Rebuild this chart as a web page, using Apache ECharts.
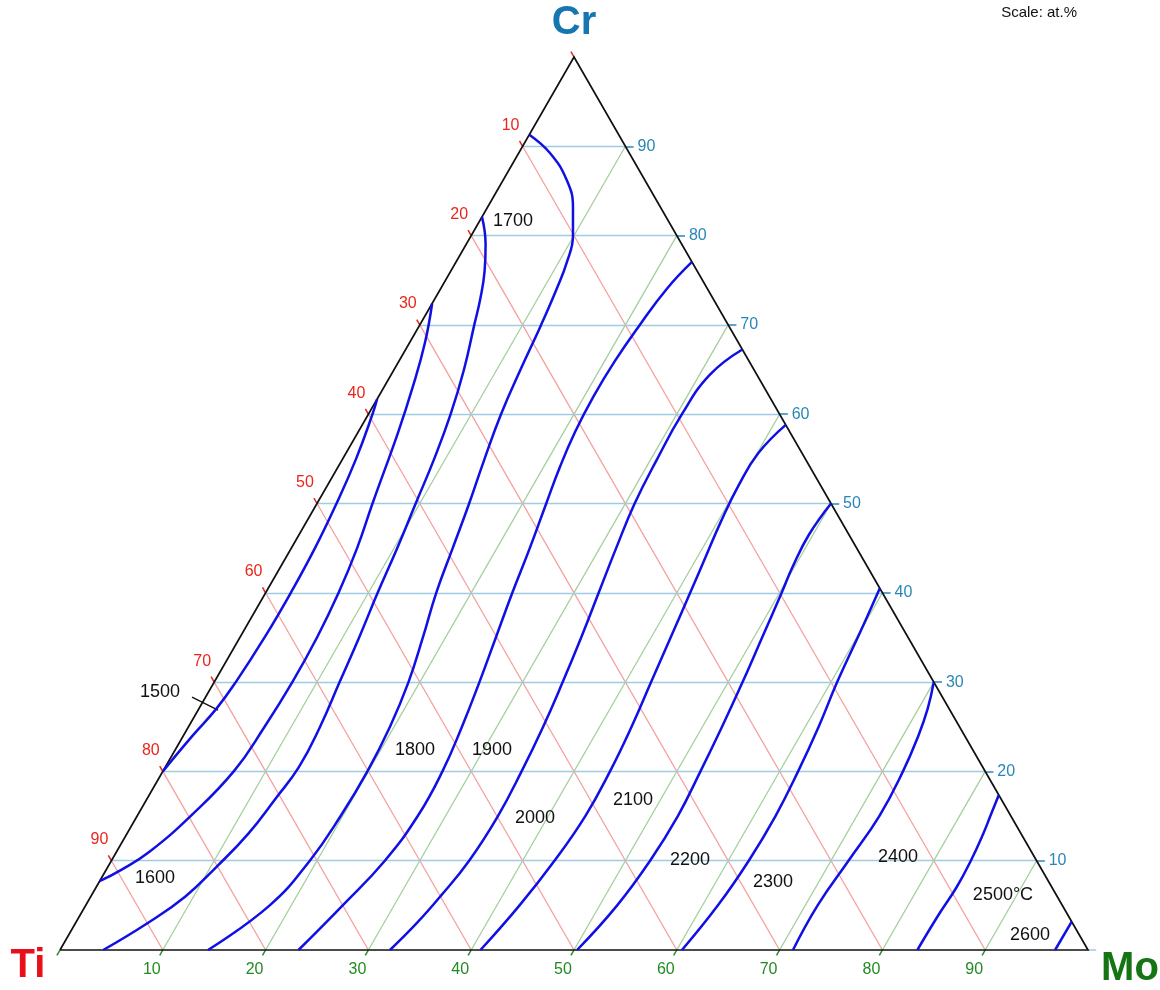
<!DOCTYPE html>
<html>
<head>
<meta charset="utf-8">
<script src="https://cdn.jsdelivr.net/npm/echarts@6/dist/echarts.min.js"></script>
<style>
html,body{margin:0;padding:0;background:#ffffff;}
#c{width:1160px;height:990px;}
</style>
</head>
<body>
<div id="c"></div>
<script>
// ---------- data (compositions in at.%: [Mo, Cr], Ti = 100 - Mo - Cr) ----------
const gridValues = [10, 20, 30, 40, 50, 60, 70, 80, 90];
const tickMarkValues = [0, 10, 20, 30, 40, 50, 60, 70, 80, 90];
const tiTickLabels = ['10', '20', '30', '40', '50', '60', '70', '80', '90'];
const crTickLabels = ['10', '20', '30', '40', '50', '60', '70', '80', '90'];
const moTickLabels = ['10', '20', '30', '40', '50', '60', '70', '80', '90'];

const iso1500 = [[0,61.7],[0.4,60],[1.3,55],[1.9,50],[2.3,45],[2.45,40],[2.4,35],[2.1,30],[1.7,27],[0.9,24],[0,20]];
const iso1600 = [[0,72.4],[1.5,68],[2.8,63],[3.9,58],[5.4,50],[6.4,45],[7.1,40],[7.5,35],[7.6,30],[7.4,25],[6.9,20],[5.2,15],[3.2,11],[1.5,9],[0,7.7]];
const iso1700 = [[0,82.1],[1.9,79],[3.3,76],[4.4,73],[5.3,70],[6.8,65],[8.0,60],[8.9,55],[9.6,50],[10.3,45],[10.9,40],[11.6,35],[12.2,30],[12.8,25],[13.0,20.5],[12.5,17],[11.8,13],[10.6,9.4],[9.2,6],[7.0,3],[4.2,0]];
const iso1800 = [[0,91.3],[3.1,89.2],[6.2,86.2],[8.3,83.2],[9.9,80],[10.8,77],[11.3,74],[11.8,70],[12.3,65],[12.9,60],[13.8,55],[14.8,50],[15.7,45],[16.6,40],[17.8,35],[18.9,30],[19.6,25],[19.9,20],[19.8,15],[19.3,10],[17.9,5],[14.4,0]];
const iso1900 = [[22.95,77.05],[22.0,74],[21.4,70],[21.0,66],[20.9,62],[21.1,58],[21.6,54],[22.3,50],[23.2,45],[24.0,40],[24.9,35],[25.8,30],[26.6,25],[27.2,20],[27.3,15],[26.6,10],[25.0,5],[23.2,0]];
const iso2000 = [[32.75,67.25],[31.0,64.4],[30.5,60],[30.6,55],[30.9,50],[31.6,45],[32.4,40],[33.2,35],[33.9,30],[34.5,25],[34.9,20],[35.1,15],[34.8,10],[34.0,6],[33.2,3],[32.1,0]];
const iso2100 = [[41.2,58.8],[40.1,55.6],[40.0,52],[40.3,48],[40.8,44],[41.3,40],[41.9,35],[42.5,30],[43.1,25],[43.5,20],[43.6,15],[43.1,10],[42.2,5],[40.9,0]];
const iso2200 = [[50.0,50.0],[49.6,46.5],[49.8,43],[50.2,40],[50.8,35],[51.4,30],[51.9,25],[52.3,20],[52.6,15],[52.4,10],[51.7,5],[50.3,0]];
const iso2300 = [[59.5,40.5],[60.0,36],[60.6,30],[61.3,25],[61.8,20],[62.1,15],[62.0,10],[61.5,5],[60.5,0]];
const iso2400 = [[70.0,30],[70.9,27],[71.5,24],[72.0,20],[72.2,15],[71.7,10],[71.2,5],[71.3,0]];
const iso2500 = [[82.65,17.35],[83.0,15],[83.3,13],[83.6,10],[83.7,7],[83.5,4],[83.4,0]];
const iso2600 = [[96.83,3.17],[96.8,0]];

const isoCurves = [iso1500, iso1600, iso1700, iso1800, iso1900, iso2000, iso2100, iso2200, iso2300, iso2400, iso2500, iso2600];
const isoLabelText = ['1500','1600','1700','1800','1900','2000','2100','2200','2300','2400','2500°C','2600'];
const isoLabelAt = [[-4.71,28.88],[5.21,8.06],[3.27,81.6],[23.34,22.39],[30.83,22.39],[38.82,14.78],[47.35,16.79],[56.25,10.07],[65.55,7.61],[76.31,10.41],[88.65,6.16],[93.52,1.68]];
const leader1500 = [[-1.32,28.32],[1.94,26.87]];

const vertexNames = ['Cr', 'Ti', 'Mo'];
const vertexAt = [[0,100],[0,0],[100,0]];

// ---------- helpers ----------
const P = (mo, cr) => [mo + cr / 2, cr];
function seg(a, b, color, width) {
  return { coords: [P(a[0], a[1]), P(b[0], b[1])], lineStyle: { color: color, width: width, opacity: 1, type: 'solid' } };
}

const RED_GRID = '#f4a09e', GREEN_GRID = '#a4cf9c', BLUE_GRID = '#9fcbe3';
const RED = '#e8261d', GREEN = '#238a23', BLUE = '#2a86b8';

const gridSegs = [];
gridValues.forEach(t => gridSegs.push(seg([0, 100 - t], [100 - t, 0], RED_GRID, 1.3)));   // Ti const
gridValues.forEach(m => gridSegs.push(seg([m, 0], [m, 100 - m], GREEN_GRID, 1.3)));       // Mo const
gridValues.forEach(c => gridSegs.push(seg([0, c], [100 - c, c], BLUE_GRID, 1.3)));        // Cr const

const tickSegs = [];
tickMarkValues.forEach(v => {
  tickSegs.push(seg([0, 100 - v], [-0.6, 100 - v + 0.6], RED, 1.5));
  tickSegs.push(seg([v, 0], [v, -0.6], GREEN, 1.5));
  tickSegs.push(seg([100 - v, v], [100 - v + 0.8, v], v === 0 ? BLUE_GRID : BLUE, 1.5));
});

const outline = [{ coords: [P(0,0), P(100,0), P(0,100), P(0,0)] }];

const tickLabelData = [];
gridValues.forEach((v, i) => {
  tickLabelData.push({ value: P(0, 100 - v), label: { formatter: tiTickLabels[i], color: RED, offset: [-12, -21] } });
  tickLabelData.push({ value: P(100 - v, v), label: { formatter: crTickLabels[i], color: BLUE, offset: [21, 0] } });
  tickLabelData.push({ value: P(v, 0), label: { formatter: moTickLabels[i], color: GREEN, offset: [-11, 20] } });
});

const vertexStyle = [
  { color: '#1676b0', offset: [0, -34] },
  { color: '#e8101a', offset: [-32, 16] },
  { color: '#157515', offset: [42, 19] }
];
const vertexData = vertexNames.map((n, i) => ({
  value: P(vertexAt[i][0], vertexAt[i][1]),
  label: { formatter: n, color: vertexStyle[i].color, offset: vertexStyle[i].offset }
}));

const isoLabelData = isoLabelText.map((t, i) => ({ value: P(isoLabelAt[i][0], isoLabelAt[i][1]), label: { formatter: t } }));

const series = [
  { type: 'lines', coordinateSystem: 'cartesian2d', polyline: false, data: gridSegs, silent: true, z: 1, clip: false, animation: false,
    lineStyle: { opacity: 1, width: 1.3 } },
  { type: 'lines', coordinateSystem: 'cartesian2d', polyline: false, data: tickSegs, silent: true, z: 2, clip: false, animation: false,
    lineStyle: { opacity: 1, width: 1.5 } },
  { type: 'lines', coordinateSystem: 'cartesian2d', polyline: true, data: outline, silent: true, z: 3, clip: false, animation: false,
    lineStyle: { color: '#111111', width: 1.7, opacity: 1 } },
  { type: 'lines', coordinateSystem: 'cartesian2d', polyline: false, data: [seg(leader1500[0], leader1500[1], '#111111', 1.3)], silent: true, z: 3, clip: false, animation: false,
    lineStyle: { opacity: 1 } }
];

isoCurves.forEach(c => {
  series.push({
    type: 'line', data: c.map(p => P(p[0], p[1])), smooth: 0.45, showSymbol: false, symbol: 'none',
    lineStyle: { color: '#1010e6', width: 2.5, opacity: 1 }, z: 4, clip: false, silent: true, animation: false
  });
});

const labelBase = { show: true, position: 'inside', align: 'center', verticalAlign: 'middle', opacity: 1, fontFamily: 'Liberation Sans, Arial, sans-serif' };
const hiddenItem = { color: 'rgba(0,0,0,0)', opacity: 1 };

series.push({
  type: 'scatter', data: tickLabelData, symbolSize: 1, itemStyle: hiddenItem, z: 5, clip: false, silent: true, animation: false,
  label: Object.assign({}, labelBase, { fontSize: 16 })
});
series.push({
  type: 'scatter', data: isoLabelData, symbolSize: 1, itemStyle: hiddenItem, z: 5, clip: false, silent: true, animation: false,
  label: Object.assign({}, labelBase, { fontSize: 18, color: '#111111' })
});
series.push({
  type: 'scatter', data: vertexData, symbolSize: 1, itemStyle: hiddenItem, z: 5, clip: false, silent: true, animation: false,
  label: Object.assign({}, labelBase, { fontSize: 40, fontWeight: 'bold' })
});

const chart = echarts.init(document.getElementById('c'));
chart.setOption({
  animation: false,
  backgroundColor: '#ffffff',
  grid: { left: 60, right: 72, top: 57, bottom: 40 },
  xAxis: { type: 'value', min: 0, max: 100, show: false },
  yAxis: { type: 'value', min: 0, max: 100, show: false },
  graphic: [{
    type: 'text', right: 83, top: 5,
    style: { text: 'Scale: at.%', fontSize: 15, fill: '#111111', fontFamily: 'Liberation Sans, Arial, sans-serif' }
  }],
  series: series
});
</script>
</body>
</html>
